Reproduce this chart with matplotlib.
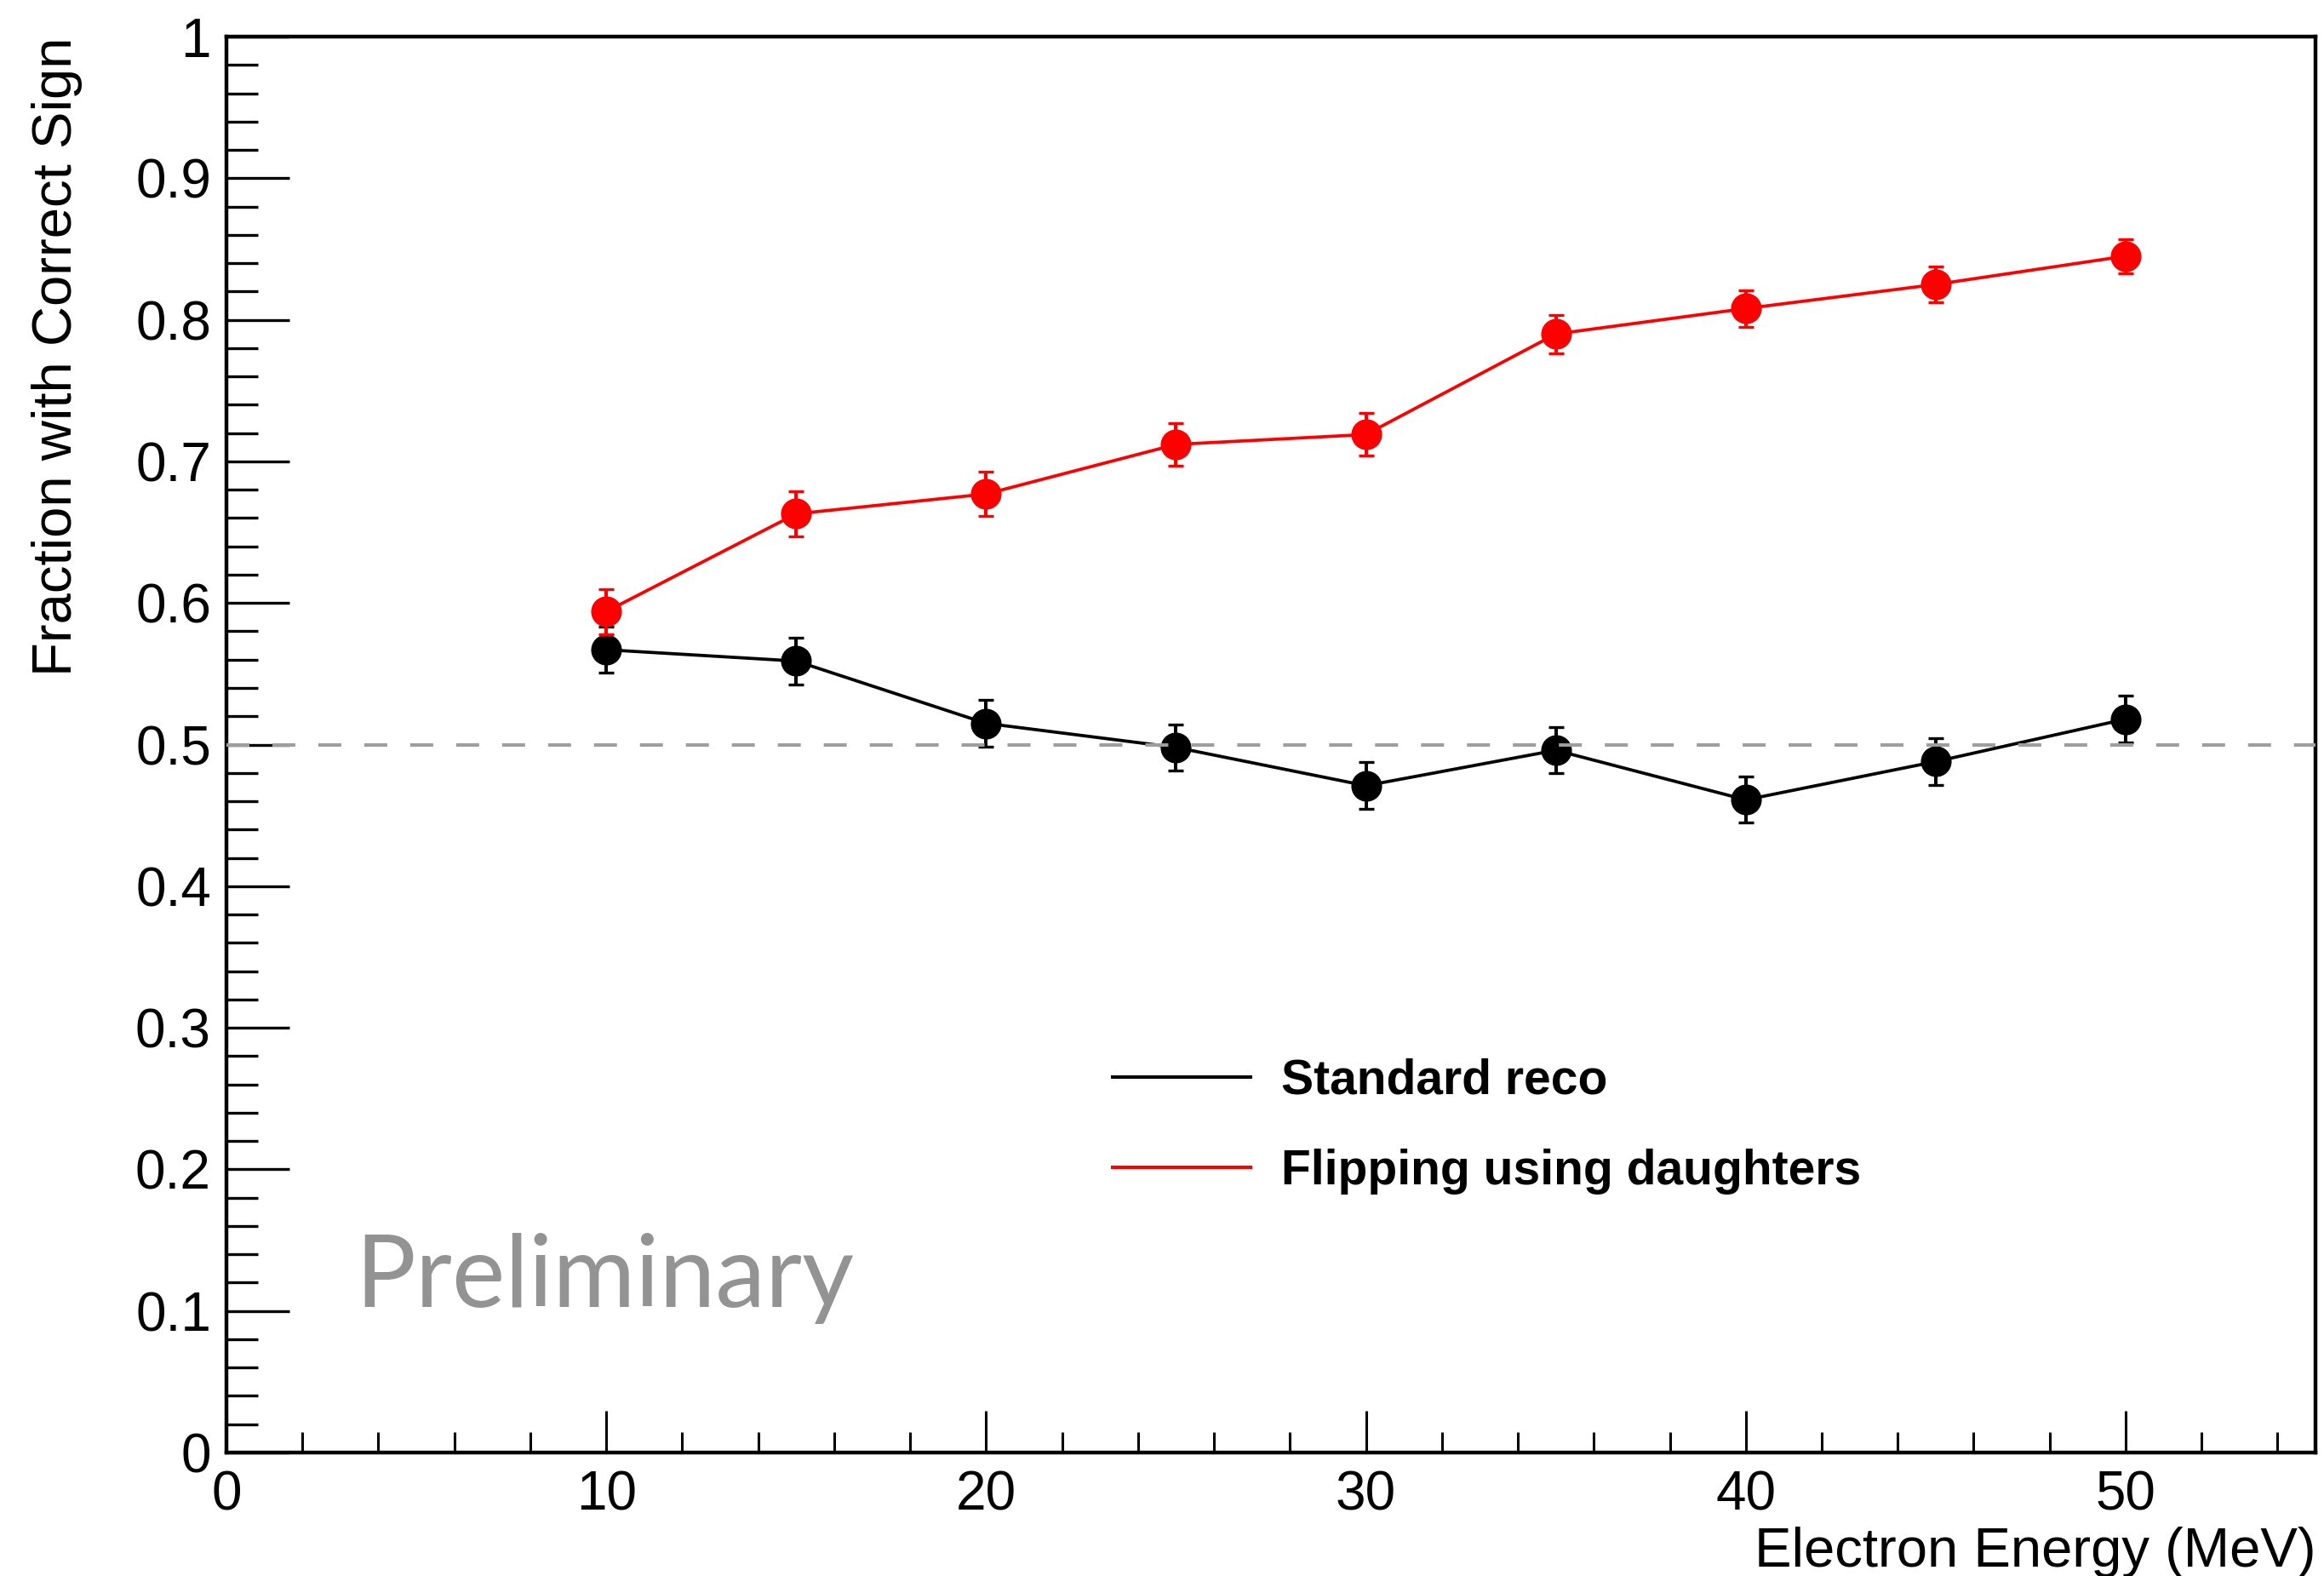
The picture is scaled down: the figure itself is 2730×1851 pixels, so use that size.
import matplotlib
matplotlib.use("Agg")
import matplotlib.pyplot as plt
from matplotlib.lines import Line2D
from matplotlib.ticker import MultipleLocator, FixedLocator, FixedFormatter

plt.rcParams['font.family'] = ['Liberation Sans', 'DejaVu Sans']

# electron energy points (MeV)
energy = [10, 15, 20, 25, 30, 35, 40, 45, 50]

# fraction of tracks with the correct direction sign
standard_frac = [0.567, 0.559, 0.515, 0.498, 0.471, 0.496, 0.461, 0.488, 0.518]
standard_err = [0.0163, 0.0166, 0.0164, 0.0164, 0.0164, 0.0164, 0.0162, 0.0164, 0.0164]

flip_frac = [0.594, 0.663, 0.677, 0.712, 0.719, 0.790, 0.808, 0.825, 0.845]
flip_err = [0.016, 0.016, 0.0155, 0.0148, 0.015, 0.0136, 0.013, 0.0127, 0.012]

series_names = ["Standard reco", "Flipping using daughters"]
y_ticks = [0.0, 0.1, 0.2, 0.3, 0.4, 0.5, 0.6, 0.7, 0.8, 0.9, 1.0]
y_tick_labels = ["0", "0.1", "0.2", "0.3", "0.4", "0.5", "0.6", "0.7", "0.8", "0.9", "1"]
x_ticks = [0, 10, 20, 30, 40, 50]
x_tick_labels = ["0", "10", "20", "30", "40", "50"]

fig = plt.figure(figsize=(27.3, 18.51), dpi=100)
ax = fig.add_axes([0.09744, 0.07834, 0.8989, 0.8984])

ax.axhline(0.5, color="#9e9e9e", lw=2.9, ls=(0, (6.7, 6.7)), zorder=4)

ax.errorbar(energy, standard_frac, yerr=standard_err, fmt="-o", color="black",
            ms=25, lw=2.7, elinewidth=2.9, capsize=6.5, capthick=2.4, zorder=2)
ax.errorbar(energy, flip_frac, yerr=flip_err, fmt="-o", color="red",
            ms=25, lw=2.7, elinewidth=2.9, capsize=6.5, capthick=2.4, zorder=3)

ax.set_xlim(0, 55)
ax.set_ylim(0, 1)

ax.xaxis.set_major_locator(FixedLocator(x_ticks))
ax.xaxis.set_major_formatter(FixedFormatter(x_tick_labels))
ax.xaxis.set_minor_locator(MultipleLocator(2))
ax.yaxis.set_major_locator(FixedLocator(y_ticks))
ax.yaxis.set_major_formatter(FixedFormatter(y_tick_labels))
ax.yaxis.set_minor_locator(MultipleLocator(0.02))

ax.tick_params(axis="both", which="both", direction="in", top=False, right=False, labelsize=46)
ax.tick_params(axis="y", which="major", length=53, width=2.4, pad=13)
ax.tick_params(axis="y", which="minor", length=26.5, width=2.4)
ax.tick_params(axis="x", which="major", length=35, width=2.2, pad=15)
ax.tick_params(axis="x", which="minor", length=17.5, width=2.2)
for sp in ax.spines.values():
    sp.set_linewidth(3.2)

ax.set_xlabel("Electron Energy (MeV)", fontsize=47, loc="right")
ax.xaxis.label.set_va("baseline")
ax.xaxis.set_label_coords(1.0, -0.0806)
ax.set_ylabel("Fraction with Correct Sign", fontsize=47, loc="top")
ax.yaxis.label.set_va("bottom")
ax.yaxis.set_label_coords(-0.0689, 1.0)

handles = [Line2D([], [], color="black", lw=2.9), Line2D([], [], color="red", lw=2.9)]
ax.legend(handles, series_names, loc="upper left", bbox_to_anchor=(0.4788, 0.3285),
          bbox_transform=fig.transFigure, frameon=False, borderpad=0, borderaxespad=0,
          handlelength=2.84, handletextpad=0.63, labelspacing=0.91,
          prop={"family": "Liberation Sans", "weight": "bold", "size": 41})

ax.text(3.4, 0.103, "Preliminary", fontsize=85, color="#939393", family=["Lato", "DejaVu Sans"],
        va="baseline", ha="left")

fig.savefig("out.png", dpi=100)
